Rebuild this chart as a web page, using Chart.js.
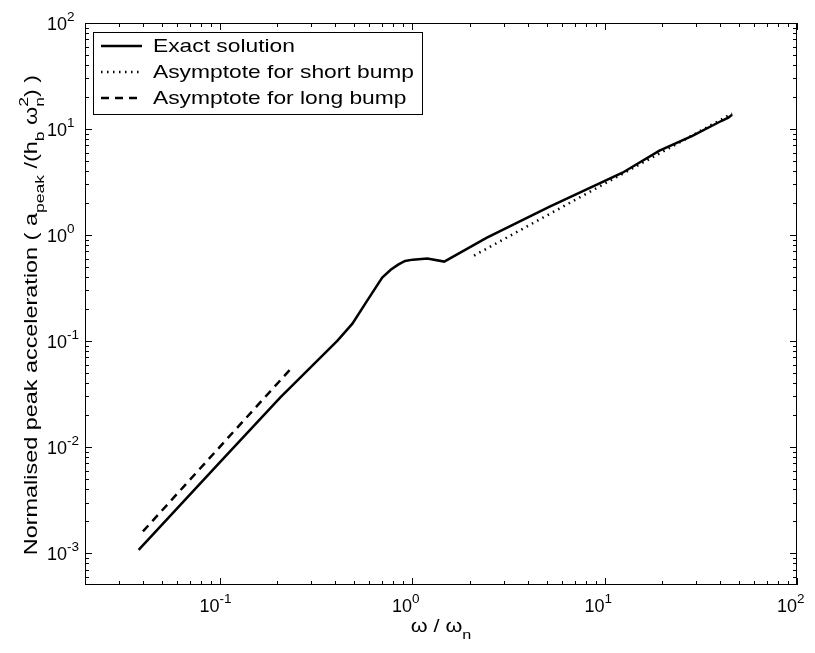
<!DOCTYPE html>
<html>
<head>
<meta charset="utf-8">
<script src="https://cdn.jsdelivr.net/npm/chart.js@4.4.1/dist/chart.umd.min.js"></script>
<style>
  html, body { margin: 0; padding: 0; background: #fff; }
</style>
</head>
<body>
<canvas id="graphique" width="815" height="653"></canvas>
<script>
// Valeurs (axes log-log)
const exactOmega = [0.038, 0.104, 0.207, 0.41, 0.49, 0.585, 0.70, 0.775, 0.847, 0.92, 1.01, 1.20, 1.47, 2.45, 5.19, 12.4, 19.3, 28.6, 40.4, 44.0, 46.0];
const exactAccel = [0.00107, 0.0077, 0.0294, 0.101, 0.146, 0.241, 0.397, 0.470, 0.526, 0.569, 0.586, 0.60, 0.562, 0.945, 1.85, 3.87, 6.24, 8.63, 11.9, 12.8, 13.6];

const shortOmega = [2.1, 46];
const shortAccel = [0.64, 14.0];

const longOmega = [0.040, 0.235];
const longAccel = [0.0016, 0.055];

const seriesLabels = ['Exact solution', 'Asymptote for short bump', 'Asymptote for long bump'];

// graduations principales : valeur + exposant affiché
const xTickValues = [0.1, 1, 10, 100];
const xTickExps = ['-1', '0', '1', '2'];
const yTickValues = [1e-3, 1e-2, 1e-1, 1, 10, 100];
const yTickExps = ['-3', '-2', '-1', '0', '1', '2'];
const minorMult = [2, 3, 4, 5, 6, 7, 8, 9];
const decades = [-4, -3, -2, -1, 0, 1, 2];

const FONT = '"Liberation Sans", Arial, Helvetica, sans-serif';
const STRETCH = 1.2; // le texte de la figure est étiré dans le sens de lecture

function toPoints(xs, ys) {
  return xs.map((x, i) => ({ x: x, y: ys[i] }));
}

// Texte avec indices / exposants (style TeX de MATLAB)
function richWidth(ctx, parts, size) {
  let w = 0;
  parts.forEach(p => {
    const s = p.s === 'n' ? size : size * 0.75;
    ctx.font = s + 'px ' + FONT;
    if (p.s === 'ss') {
      w += Math.max(ctx.measureText(p.t).width, ctx.measureText(p.t2).width);
    } else {
      w += ctx.measureText(p.t).width;
    }
  });
  return w;
}

function drawRich(ctx, parts, x, y, size) {
  let cx = x;
  ctx.textAlign = 'left';
  ctx.textBaseline = 'alphabetic';
  parts.forEach(p => {
    if (p.s === 'n') {
      ctx.font = size + 'px ' + FONT;
      ctx.fillText(p.t, cx, y);
      cx += ctx.measureText(p.t).width;
    } else {
      const s = size * 0.75;
      ctx.font = s + 'px ' + FONT;
      if (p.s === 'sub') {
        ctx.fillText(p.t, cx, y + size * 0.38);
        cx += ctx.measureText(p.t).width;
      } else if (p.s === 'sup') {
        ctx.fillText(p.t, cx, y - size * 0.5);
        cx += ctx.measureText(p.t).width;
      } else {
        ctx.fillText(p.t, cx, y + size * 0.38);
        ctx.fillText(p.t2, cx, y - size * 0.5);
        cx += Math.max(ctx.measureText(p.t).width, ctx.measureText(p.t2).width);
      }
    }
  });
}

const axesMatlab = {
  id: 'axesMatlab',
  afterDraw(chart) {
    const ctx = chart.ctx;
    const a = chart.chartArea;
    const xs = chart.scales.x;
    const ys = chart.scales.y;
    ctx.save();
    ctx.strokeStyle = '#000';
    ctx.fillStyle = '#000';
    ctx.lineWidth = 1;

    // cadre
    ctx.strokeRect(a.left + 0.5, a.top + 0.5, a.right - a.left - 1, a.bottom - a.top - 1);

    // graduations vers l'intérieur, sur les quatre côtés
    ctx.beginPath();
    const tickX = (v, len) => {
      const px = Math.round(xs.getPixelForValue(v)) + 0.5;
      ctx.moveTo(px, a.bottom); ctx.lineTo(px, a.bottom - len);
      ctx.moveTo(px, a.top); ctx.lineTo(px, a.top + len);
    };
    const tickY = (v, len) => {
      const py = Math.round(ys.getPixelForValue(v)) + 0.5;
      ctx.moveTo(a.left, py); ctx.lineTo(a.left + len, py);
      ctx.moveTo(a.right, py); ctx.lineTo(a.right - len, py);
    };
    decades.forEach(d => {
      minorMult.forEach(m => {
        const v = m * Math.pow(10, d);
        if (v > xs.min && v < xs.max) tickX(v, 4);
        if (v > ys.min && v < ys.max) tickY(v, 4);
      });
    });
    xTickValues.forEach(v => tickX(v, 7));
    yTickValues.forEach(v => tickY(v, 7));
    ctx.stroke();

    // étiquettes des graduations
    const size = 18;
    xTickValues.forEach((v, i) => {
      const px = xs.getPixelForValue(v);
      ctx.font = size + 'px ' + FONT;
      const w10 = ctx.measureText('10').width;
      drawRich(ctx, [{ t: '10', s: 'n' }, { t: xTickExps[i], s: 'sup' }], px - w10, 612, size);
    });
    yTickValues.forEach((v, i) => {
      const py = ys.getPixelForValue(v);
      drawRich(ctx, [{ t: '10', s: 'n' }, { t: yTickExps[i], s: 'sup' }], 47, py + 7, size);
    });

    // titre de l'axe x
    const xTitle = [{ t: 'ω / ω', s: 'n' }, { t: 'n', s: 'sub' }];
    const wx = richWidth(ctx, xTitle, size) * STRETCH;
    ctx.save();
    ctx.translate((a.left + a.right) / 2 - wx / 2, 632);
    ctx.scale(STRETCH, 1);
    drawRich(ctx, xTitle, 0, 0, size);
    ctx.restore();

    // titre de l'axe y (tourné)
    const yTitle = [
      { t: 'Normalised peak acceleration ( a', s: 'n' },
      { t: 'peak', s: 'sub' },
      { t: ' /(h', s: 'n' },
      { t: 'b', s: 'sub' },
      { t: ' ω', s: 'n' },
      { t: 'n', t2: '2', s: 'ss' },
      { t: ') )', s: 'n' }
    ];
    const yStretch = 1.3;
    const wy = richWidth(ctx, yTitle, size) * yStretch;
    ctx.save();
    ctx.translate(37, 315);
    ctx.rotate(-Math.PI / 2);
    ctx.translate(-wy / 2, 0);
    ctx.scale(yStretch, 1);
    drawRich(ctx, yTitle, 0, 0, size);
    ctx.restore();

    // légende
    const lx = 93, ly = 32, lw = 329, lh = 82;
    ctx.fillStyle = '#fff';
    ctx.fillRect(lx, ly, lw, lh);
    ctx.strokeStyle = '#000';
    ctx.lineWidth = 1;
    ctx.strokeRect(lx + 0.5, ly + 0.5, lw, lh);
    ctx.fillStyle = '#000';
    const rows = [46, 72, 98];
    chart.data.datasets.forEach((ds, i) => {
      ctx.beginPath();
      ctx.lineWidth = ds.borderWidth;
      ctx.setLineDash(ds.borderDash || []);
      ctx.moveTo(101, rows[i]);
      ctx.lineTo(142, rows[i]);
      ctx.stroke();
      ctx.setLineDash([]);
      ctx.save();
      ctx.translate(153, rows[i] + 1);
      ctx.scale(STRETCH, 1);
      ctx.font = '19px ' + FONT;
      ctx.textAlign = 'left';
      ctx.textBaseline = 'middle';
      ctx.fillText(ds.label, 0, 0);
      ctx.restore();
    });
    ctx.restore();
  }
};

const ctx = document.getElementById('graphique').getContext('2d');
new Chart(ctx, {
  type: 'scatter',
  data: {
    datasets: [
      {
        label: seriesLabels[0],
        data: toPoints(exactOmega, exactAccel),
        showLine: true,
        borderColor: '#000',
        borderWidth: 2.5,
        pointRadius: 0,
        borderDash: []
      },
      {
        label: seriesLabels[1],
        data: toPoints(shortOmega, shortAccel),
        showLine: true,
        borderColor: '#000',
        borderWidth: 2.5,
        pointRadius: 0,
        borderDash: [1.5, 4.5]
      },
      {
        label: seriesLabels[2],
        data: toPoints(longOmega, longAccel),
        showLine: true,
        borderColor: '#000',
        borderWidth: 2.5,
        pointRadius: 0,
        borderDash: [8, 6]
      }
    ]
  },
  options: {
    responsive: false,
    animation: false,
    layout: { padding: { left: 85, right: 18, top: 23, bottom: 68 } },
    plugins: {
      legend: { display: false },
      tooltip: { enabled: false }
    },
    scales: {
      x: { type: 'logarithmic', min: 0.02, max: 100, display: false },
      y: { type: 'logarithmic', min: 5e-4, max: 100, display: false }
    }
  },
  plugins: [axesMatlab]
});
</script>
</body>
</html>
